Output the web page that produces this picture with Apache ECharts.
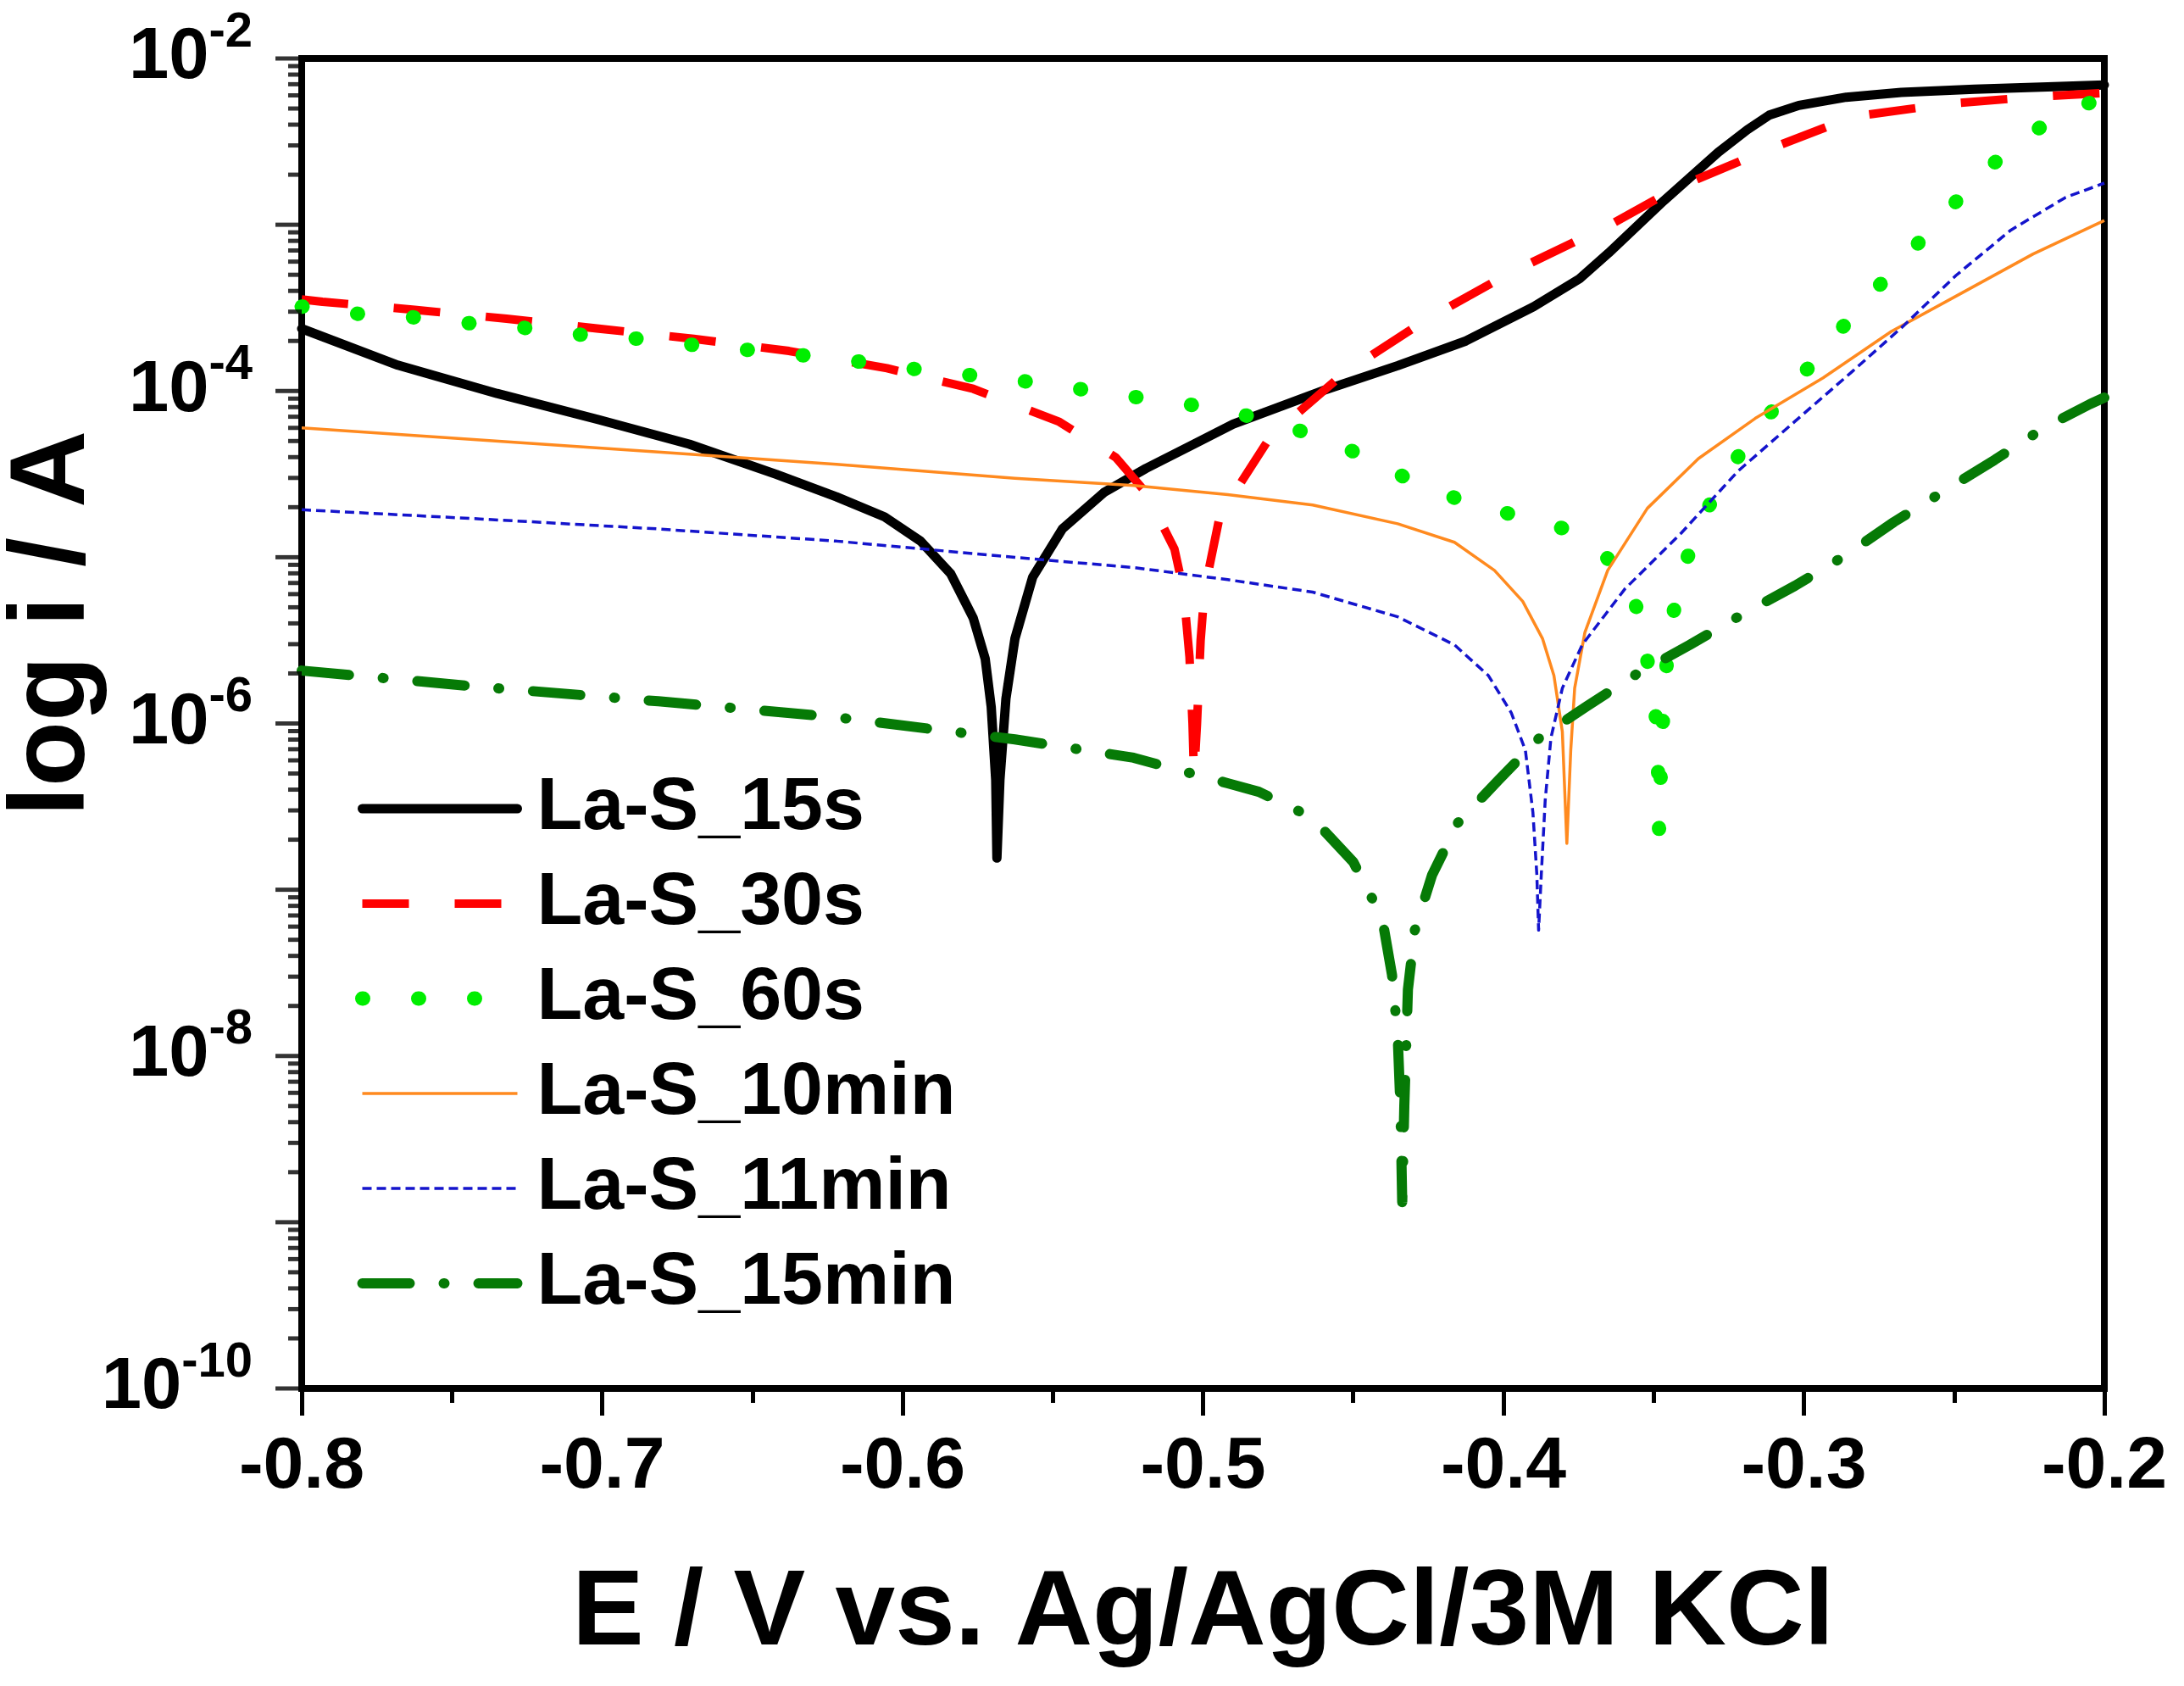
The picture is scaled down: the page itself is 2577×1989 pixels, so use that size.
<!DOCTYPE html>
<html lang="en">
<head>
    <meta charset="UTF-8">
    <title>La-S Tafel curves</title>
    <script src="https://cdn.jsdelivr.net/npm/echarts@6/dist/echarts.min.js"></script>
    <style>
        html, body { margin: 0; padding: 0; background: #fff; }
        #chart { width: 2577px; height: 1989px; }
    </style>
</head>
<body>
    <div id="chart"></div>
    <script>
        // legend names
        var seriesNames = ['La-S_15s', 'La-S_30s', 'La-S_60s', 'La-S_10min', 'La-S_11min', 'La-S_15min'];

        // x tick range (V)
        var xTicks = [-0.8, -0.7, -0.6, -0.5, -0.4, -0.3, -0.2];
        // y decades shown with a label
        var yLabelDecades = [-10, -8, -6, -4, -2];

        // La-S_15s
        var e15s = [-0.800, -0.768, -0.735, -0.701, -0.671, -0.642, -0.622, -0.606, -0.594, -0.584,
            -0.5765, -0.5725, -0.5705, -0.569, -0.5686, -0.5676, -0.5656, -0.5626, -0.5567, -0.5468,
            -0.533, -0.519, -0.503, -0.490, -0.4597, -0.4352, -0.4125, -0.390, -0.3747, -0.365,
            -0.3467, -0.3285, -0.3188, -0.3115, -0.3017, -0.2859, -0.2676, -0.2433, -0.2189, -0.200];
        var i15s = [2.37e-4, 1.43e-4, 9.66e-5, 6.71e-5, 4.79e-5, 3.15e-5, 2.31e-5, 1.75e-5, 1.25e-5, 7.96e-6,
            4.31e-6, 2.45e-6, 1.26e-6, 4.57e-7, 1.55e-7, 4.57e-7, 1.41e-6, 3.24e-6, 7.59e-6, 1.48e-5,
            2.45e-5, 3.42e-5, 4.79e-5, 6.31e-5, 1.01e-4, 1.42e-4, 2.00e-4, 3.21e-4, 4.73e-4, 6.76e-4,
            1.39e-3, 2.73e-3, 3.73e-3, 4.57e-3, 5.22e-3, 5.85e-3, 6.25e-3, 6.53e-3, 6.75e-3, 6.93e-3];

        // La-S_30s
        var e30s = [-0.800, -0.7931, -0.7624, -0.7318, -0.7011, -0.6695, -0.6378, -0.6052, -0.5765, -0.5478,
            -0.529, -0.519, -0.5095, -0.5065, -0.5045, -0.5035, -0.5030, -0.5020, -0.5008, -0.4995,
            -0.4944, -0.4905, -0.4776, -0.4531, -0.4253, -0.3978, -0.3645, -0.3419, -0.3129, -0.2835,
            -0.2518, -0.2202, -0.200];
        var i30s = [3.55e-4, 3.44e-4, 3.08e-4, 2.72e-4, 2.37e-4, 2.06e-4, 1.74e-4, 1.37e-4, 1.03e-4, 6.52e-5,
            3.98e-5, 2.45e-5, 1.12e-5, 6.31e-6, 2.51e-6, 1.00e-6, 4.79e-7, 1.00e-6, 3.16e-6, 6.31e-6,
            1.78e-5, 2.30e-5, 5.30e-5, 1.28e-4, 2.71e-4, 5.13e-4, 1.00e-3, 1.68e-3, 2.79e-3, 4.47e-3,
            5.35e-3, 5.93e-3, 6.20e-3];

        // La-S_60s
        var e60s = [-0.800, -0.7812, -0.7624, -0.7436, -0.7252, -0.707, -0.6882, -0.6695, -0.6507, -0.6319,
            -0.6141, -0.5953, -0.5765, -0.5587, -0.5399, -0.5211, -0.5023, -0.4842, -0.4663, -0.4503,
            -0.4329, -0.4153, -0.3974, -0.3795, -0.3663, -0.3559, -0.3521, -0.3493, -0.3485, -0.3482,
            -0.3474, -0.3464, -0.3449, -0.3413, -0.3355, -0.327, -0.3177, -0.3058, -0.2939, -0.281,
            -0.2681, -0.2555, -0.2433, -0.2287, -0.211, -0.200];
        var i60s = [3.22e-4, 2.91e-4, 2.77e-4, 2.55e-4, 2.39e-4, 2.18e-4, 2.06e-4, 1.89e-4, 1.76e-4, 1.63e-4,
            1.50e-4, 1.35e-4, 1.24e-4, 1.14e-4, 1.02e-4, 9.12e-5, 8.17e-5, 7.03e-5, 5.66e-5, 4.35e-5,
            3.03e-5, 2.24e-5, 1.81e-5, 1.48e-5, 1.05e-5, 5.12e-6, 2.40e-6, 1.11e-6, 5.01e-7, 2.26e-7,
            7.21e-7, 1.56e-6, 3.39e-6, 7.21e-6, 1.50e-5, 2.90e-5, 5.28e-5, 9.66e-5, 1.73e-4, 3.27e-4,
            5.86e-4, 1.04e-3, 1.82e-3, 3.19e-3, 5.00e-3, 5.75e-3];

        // La-S_10min
        var e10min = [-0.800, -0.7407, -0.6813, -0.622, -0.5626, -0.5231, -0.4918, -0.4635, -0.4352, -0.4163,
            -0.403, -0.3936, -0.387, -0.3832, -0.3804, -0.3789, -0.3776, -0.3763, -0.3729, -0.3653,
            -0.3521, -0.3351, -0.3162, -0.2936, -0.2709, -0.2464, -0.2237, -0.200];
        var i10min = [6.00e-5, 5.07e-5, 4.29e-5, 3.62e-5, 2.98e-5, 2.70e-5, 2.38e-5, 2.06e-5, 1.59e-5, 1.23e-5,
            8.34e-6, 5.43e-6, 3.24e-6, 1.94e-6, 8.93e-7, 1.90e-7, 6.90e-7, 1.63e-6, 3.53e-6, 8.34e-6,
            1.97e-5, 3.92e-5, 6.84e-5, 1.20e-4, 2.28e-4, 3.98e-4, 6.67e-4, 1.06e-3];

        // La-S_11min
        var e11min = [-0.800, -0.7407, -0.6813, -0.622, -0.5626, -0.5231, -0.4918, -0.4635, -0.4352, -0.4163,
            -0.405, -0.3974, -0.3927, -0.3902, -0.3889, -0.3883, -0.3874, -0.3861, -0.3842, -0.3804,
            -0.3738, -0.3596, -0.3408, -0.3219, -0.303, -0.2841, -0.267, -0.2494, -0.2311, -0.2129, -0.200];
        var i11min = [1.93e-5, 1.70e-5, 1.48e-5, 1.25e-5, 9.98e-6, 8.67e-6, 7.33e-6, 6.17e-6, 4.38e-6, 2.97e-6,
            1.94e-6, 1.16e-6, 6.90e-7, 2.92e-7, 1.24e-7, 5.71e-8, 1.24e-7, 3.47e-7, 8.18e-7, 1.63e-6,
            2.97e-6, 6.44e-6, 1.40e-5, 3.30e-5, 6.56e-5, 1.30e-4, 2.45e-4, 4.95e-4, 9.29e-4, 1.46e-3, 1.78e-3];

        // La-S_15min
        var e15min = [-0.800, -0.7407, -0.6813, -0.622, -0.5626, -0.5231, -0.4918, -0.4814, -0.4639, -0.450,
            -0.4404, -0.4371, -0.4352, -0.4343, -0.4337, -0.4330, -0.4318, -0.4295, -0.4238, -0.4153,
            -0.4016, -0.388, -0.3725, -0.3559, -0.338, -0.3209, -0.303, -0.286, -0.270, -0.2365,
            -0.2199, -0.2048, -0.200];
        var i15min = [2.08e-6, 1.66e-6, 1.36e-6, 1.09e-6, 8.02e-7, 6.22e-7, 4.37e-7, 3.88e-7, 2.73e-7, 1.47e-7,
            6.78e-8, 3.08e-8, 1.32e-8, 5.01e-9, 1.32e-9, 5.01e-9, 2.51e-8, 5.71e-8, 1.22e-7, 2.51e-7,
            4.57e-7, 8.20e-7, 1.26e-6, 1.97e-6, 2.97e-6, 4.49e-6, 6.73e-6, 1.03e-5, 1.63e-5, 3.85e-5,
            6.03e-5, 8.34e-5, 9.12e-5];

        function zip(xs, ys) {
            return xs.map(function (x, k) { return [x, ys[k]]; });
        }

        // y axis tick marks: each decade and the 2..9 steps inside it
        var decadeTicks = [];
        var minorTicks = [];
        for (var e = -10; e <= -2; e++) {
            decadeTicks.push([xTicks[0], Math.pow(10, e)]);
            if (e < -2) {
                for (var m = 2; m <= 9; m++) {
                    minorTicks.push([xTicks[0], m * Math.pow(10, e)]);
                }
            }
        }

        var FONT = '"Liberation Sans", Arial, Helvetica, sans-serif';

        var styles = [
            { color: '#000000', width: 11, type: 'solid', cap: 'round' },
            { color: '#ff0000', width: 10, type: [55, 54], cap: 'butt' },
            { color: '#00ee00', width: 17, type: [1, 65], cap: 'round' },
            { color: '#ff8a1f', width: 3.5, type: 'solid', cap: 'butt' },
            { color: '#1414cc', width: 3.5, type: [11, 6], cap: 'butt' },
            { color: '#067a06', width: 12, type: [56, 40, 1, 40], cap: 'round' }
        ];
        var seriesData = [zip(e15s, i15s), zip(e30s, i30s), zip(e60s, i60s),
            zip(e10min, i10min), zip(e11min, i11min), zip(e15min, i15min)];

        var chart = echarts.init(document.getElementById('chart'));

        var series = seriesNames.map(function (name, k) {
            var st = styles[k];
            return {
                name: name,
                type: 'line',
                data: seriesData[k],
                showSymbol: false,
                symbol: 'none',
                silent: true,
                z: 2 + k,
                itemStyle: { color: st.color },
                lineStyle: { color: st.color, width: st.width, type: st.type, cap: st.cap, join: 'round' }
            };
        });

        // log-axis ticks drawn as small rects sitting on the left axis
        series.push({
            name: 'decadeTicks',
            type: 'scatter',
            data: decadeTicks,
            symbol: 'rect',
            symbolSize: [31, 5],
            symbolOffset: [-15.5, 0],
            itemStyle: { color: '#000' },
            clip: false,
            silent: true,
            z: 20
        });
        series.push({
            name: 'minorTicks',
            type: 'scatter',
            data: minorTicks,
            symbol: 'rect',
            symbolSize: [16, 5],
            symbolOffset: [-8, 0],
            itemStyle: { color: '#000' },
            clip: false,
            silent: true,
            z: 20
        });

        chart.setOption({
            animation: false,
            backgroundColor: '#ffffff',
            grid: {
                left: 356,
                right: 94,
                top: 69,
                bottom: 351,
                show: true,
                borderColor: '#000',
                borderWidth: 8,
                containLabel: false,
                outerBoundsMode: 'none'
            },
            legend: {
                orient: 'vertical',
                left: 414,
                top: 904,
                itemWidth: 183,
                itemHeight: 20,
                itemGap: 22,
                selectedMode: false,
                data: seriesNames.map(function (name, k) {
                    return {
                        name: name,
                        // hide the symbol dot, keep only the line sample
                        itemStyle: { color: 'rgba(0,0,0,0)', borderWidth: 0, opacity: 0 },
                        lineStyle: { width: styles[k].width, type: styles[k].type, cap: styles[k].cap, color: styles[k].color, opacity: 1 }
                    };
                }),
                textStyle: {
                    fontFamily: FONT,
                    fontWeight: 'bold',
                    fontSize: 88,
                    lineHeight: 90,
                    color: '#000',
                    padding: [0, 0, 0, 18]
                }
            },
            xAxis: {
                type: 'value',
                min: xTicks[0],
                max: xTicks[xTicks.length - 1],
                interval: 0.1,
                name: 'E / V vs. Ag/AgCl/3M KCl',
                nameLocation: 'middle',
                nameGap: 203,
                nameTextStyle: { fontFamily: FONT, fontWeight: 'bold', fontSize: 127, color: '#000' },
                axisLine: { show: true, onZero: false, lineStyle: { color: '#000', width: 8 } },
                axisTick: { show: true, inside: false, length: 32, lineStyle: { color: '#000', width: 5 } },
                minorTick: { show: true, splitNumber: 2, length: 17, lineStyle: { color: '#000', width: 5 } },
                splitLine: { show: false },
                axisLabel: {
                    margin: 50,
                    fontFamily: FONT,
                    fontWeight: 'bold',
                    fontSize: 86,
                    color: '#000',
                    showMinLabel: true,
                    showMaxLabel: true,
                    formatter: function (v) { return (Math.round(v * 10) / 10).toFixed(1); }
                }
            },
            yAxis: {
                type: 'log',
                logBase: 10,
                min: Math.pow(10, yLabelDecades[0]),
                max: Math.pow(10, yLabelDecades[yLabelDecades.length - 1]),
                name: 'log i / A',
                nameLocation: 'middle',
                nameGap: 229,
                nameRotate: 90,
                nameMoveOverlap: false,
                nameTextStyle: {
                    fontFamily: FONT, fontWeight: 'bold', fontSize: 126, color: '#000',
                    padding: [0, 0, 0, 236]
                },
                axisLine: { show: true, onZero: false, lineStyle: { color: '#000', width: 8 } },
                axisTick: { show: false },
                splitLine: { show: false },
                axisLabel: {
                    margin: 58,
                    color: '#000',
                    formatter: function (v) {
                        var ex = Math.round(Math.log10(v));
                        if (yLabelDecades.indexOf(ex) < 0) return '';
                        return '{b|10}{s|' + ex + '}';
                    },
                    rich: {
                        b: { fontFamily: FONT, fontWeight: 'bold', fontSize: 85, lineHeight: 85, verticalAlign: 'bottom', color: '#000' },
                        s: { fontFamily: FONT, fontWeight: 'bold', fontSize: 58, lineHeight: 58, verticalAlign: 'bottom', padding: [0, 0, 44, 0], color: '#000' }
                    }
                }
            },
            series: series
        });
    </script>
</body>
</html>
